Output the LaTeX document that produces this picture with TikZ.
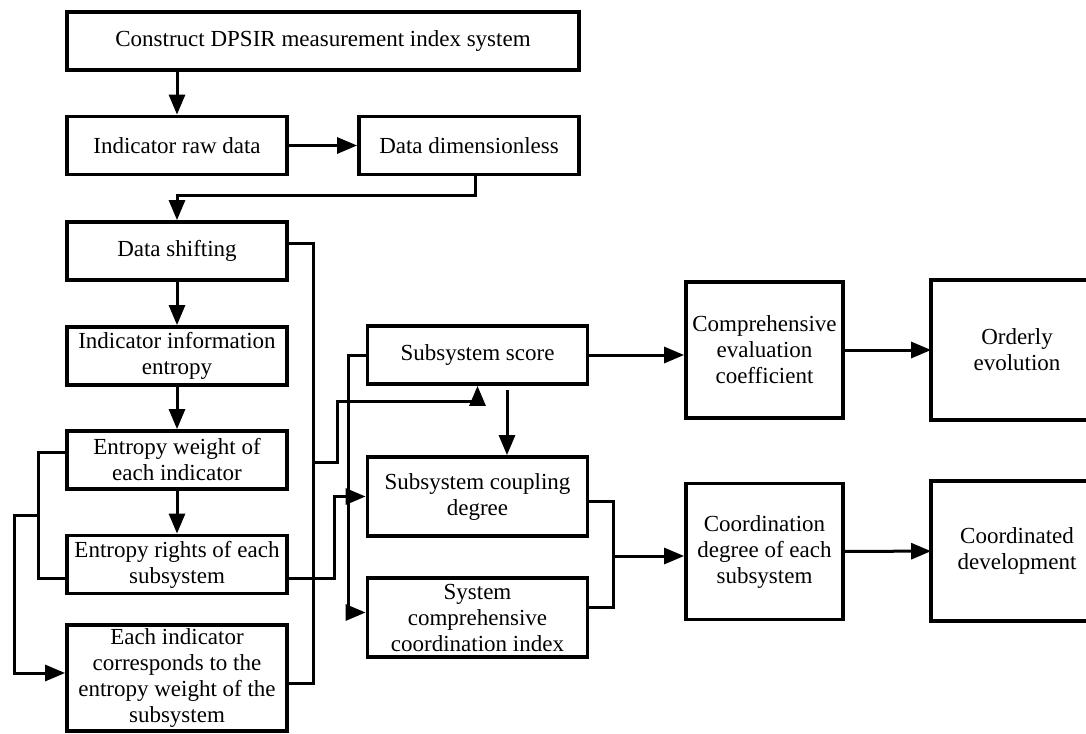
\documentclass[tikz,border=0pt]{standalone}
\usepackage{fontspec}
\setmainfont{Liberation Serif}
\usetikzlibrary{arrows.meta}

\tikzset{
    blk/.style={draw, line width=1.9pt, align=center, inner sep=0pt, font=\fontsize{11.5}{13}\selectfont},
    wide/.style={blk, minimum width=110pt, minimum height=29pt},
    tall/.style={blk, minimum width=78.5pt, minimum height=68pt},
    lnk/.style={line width=1.5pt},
    arr/.style={lnk, -{Triangle[length=10pt,width=8pt]}}
}

\begin{document}
\begin{tikzpicture}[x=0.5pt, y=-0.5pt]
        \useasboundingbox (0,0) rectangle (1086,733);

        % left column
        \node[blk, minimum width=256pt, minimum height=29pt] (B1) at (323,41) {Construct DPSIR measurement index system};
        \node[wide] (B2) at (177,145.5) {Indicator raw data};
        \node[wide] (B3) at (469,145.5) {Data dimensionless};
        \node[wide] (B4) at (177,251) {Data shifting};
        \node[wide] (B5) at (177,356) {Indicator information\\entropy};
        \node[wide] (B6) at (177,460) {Entropy weight of\\each indicator};
        \node[wide] (B7) at (177,564.5) {Entropy rights of each\\subsystem};
        \node[wide, minimum height=53pt] (B8) at (177,678) {Each indicator\\corresponds to the\\entropy weight of the\\subsystem};

        % middle column
        \node[wide] (S1) at (477.5,355) {Subsystem score};
        \node[wide, minimum height=39.5pt] (S2) at (477.5,496.5) {Subsystem coupling\\degree};
        \node[wide, minimum height=39.5pt] (S3) at (477.5,617.5) {System\\comprehensive\\coordination index};

        % right columns (last boxes run off the page)
        \node[tall] (C1) at (764.5,350) {Comprehensive\\evaluation\\coefficient};
        \node[tall] (C2) at (764.5,551.5) {Coordination\\degree of each\\subsystem};
        \node[tall, draw=none, minimum width=84pt] (R1) at (1017,350) {Orderly\\evolution};
        \node[tall, draw=none, minimum width=84pt] (R2) at (1017,551) {Coordinated\\development};
        \draw[line width=1.9pt] ([xshift=20pt]R1.north east) -- (R1.north west) -- (R1.south west) -- ([xshift=20pt]R1.south east);
        \draw[line width=1.9pt] ([xshift=20pt]R2.north east) -- (R2.north west) -- (R2.south west) -- ([xshift=20pt]R2.south east);

        \coordinate (busR) at (313,462);
        \coordinate (jL) at (38,515);
        \coordinate (jR) at (613,556);

        \draw[arr] (B1.south -| B2.north) -- (B2.north);
        \draw[arr] (B2) -- (B3);
        \draw[arr] ([xshift=3pt]B3.south) -- ++(0,19) -| (B4.north);
        \draw[arr] (B4) -- (B5);
        \draw[arr] (B5) -- (B6);
        \draw[arr] (B6) -- (B7);

        \draw[lnk] ([yshift=4pt]B4.east) -| (busR) |- ([yshift=-2.5pt]B8.east);
        \draw[arr] (busR) -- ++(24,0) |- ([yshift=-8pt]S1.south) -- (S1.south);
        \draw[arr] ([yshift=-6.75pt]B7.east) -| ([xshift=-15.5pt]S2.west) -- (S2.west);

        \draw[lnk] ([yshift=4pt]B6.west) -| (jL) |- ([yshift=-6.75pt]B7.west);
        \draw[arr] (jL) -- ++(-24,0) |- ([yshift=2.5pt]B8.west);

        \draw[arr] (S1.west) -- ++(-17,0) |- ([yshift=2.5pt]S3.west);
        \draw[arr] ([xshift=14.75pt,yshift=-2pt]S1.south) -- ([xshift=14.75pt]S2.north);
        \draw[arr] (S1.east) -- (S1.east -| C1.west);

        \draw[lnk] ([yshift=-2.25pt]S2.east) -| (jR) |- ([yshift=5.25pt]S3.east);
        \draw[arr] (jR) -- (jR -| C2.west);

        \draw[arr] (C1) -- (R1);
        \draw[arr] (C2) -- (R2);
\end{tikzpicture}
\end{document}
